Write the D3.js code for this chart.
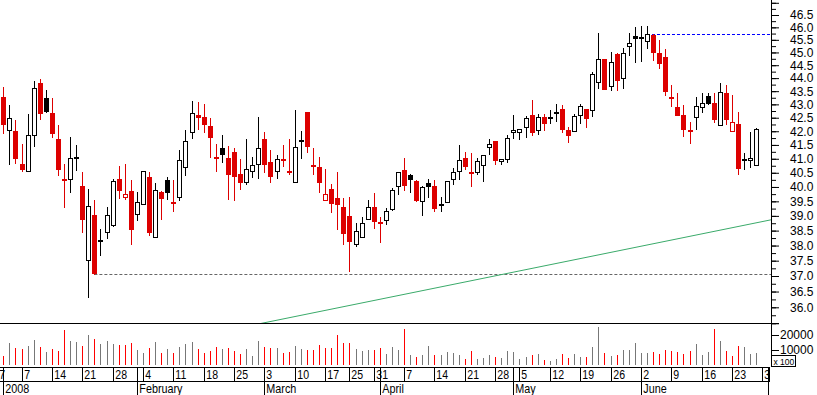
<!DOCTYPE html>
<html>
  <head>
    <meta charset="UTF-8" />
    <style>
      body {
        margin: 0;
        background-color: #ffffff;
      }
      svg {
        display: block;
        font-family: "Liberation Sans", Arial, sans-serif;
      }
    </style>
  </head>

  <body>
    <svg id="chart" width="817" height="395"></svg>

    <script src="https://d3js.org/d3.v7.min.js"></script>
    <script>
      // daily prices, 2 Jan 2008 .. 27 Jun 2008
      const openPrices = [
        43.26, 42.03, 42.0, 40.8, 40.58, 41.85, 43.8, 43.24, 42.67, 41.71,
        40.28, 40.27, 41.06, 40.03, 37.52, 39.02, 38.2, 38.47, 38.7, 40.28,
        39.64, 39.86, 39.05, 39.42, 40.35, 38.3, 39.82, 40.24, 39.49, 39.64,
        40.69, 41.96, 42.6, 42.52, 42.19, 41.05, 41.4, 41.01, 41.23, 40.47,
        40.18, 40.55, 40.83, 41.7, 40.88, 40.55, 40.98, 40.58, 40.16, 41.67,
        42.71, 40.79, 40.69, 39.53, 39.92, 39.6, 39.3, 38.99, 38.04, 38.27,
        38.9, 39.3, 38.8, 38.87, 39.22, 40.05, 40.59, 40.41, 40.21, 39.52,
        40.13, 40.03, 39.42, 39.46, 40.27, 40.55, 41.02, 40.52, 40.51, 40.76,
        41.44, 41.63, 40.91, 40.98, 41.98, 41.99, 42.15, 42.6, 42.03, 42.52,
        42.52, 42.72, 42.82, 42.06, 42.0, 42.62, 42.82, 42.78, 43.84, 44.73,
        43.69, 44.93, 43.99, 45.27, 45.64, 45.6, 45.45, 45.69, 44.97, 44.83,
        43.29, 42.89, 42.62, 42.05, 42.54, 42.91, 43.31, 43.04, 42.22, 43.42,
        42.02, 42.27, 40.99, 40.95, 40.76,
      ];
      const highPrices = [
        43.67, 42.98, 42.41, 41.53, 42.64, 43.89, 43.96, 43.54, 43.23, 42.23,
        40.81, 41.79, 41.49, 40.52, 39.92, 39.54, 38.55, 39.29, 40.28, 40.74,
        40.81, 40.24, 39.82, 40.56, 40.52, 40.13, 39.86, 40.35, 40.24, 41.31,
        42.04, 43.12, 43.08, 43.02, 42.48, 41.53, 41.86, 41.45, 41.38, 40.99,
        41.7, 41.06, 42.52, 41.97, 41.31, 41.12, 41.48, 41.7, 42.79, 42.0,
        42.71, 41.38, 41.06, 40.63, 40.1, 40.53, 39.62, 39.66, 38.77, 38.95,
        39.54, 39.8, 38.96, 39.26, 39.95, 40.51, 41.02, 40.44, 40.24, 40.03,
        40.28, 40.24, 39.65, 40.21, 40.66, 41.49, 41.24, 41.2, 41.01, 41.12,
        41.7, 41.64, 40.99, 41.85, 42.6, 42.1, 42.57, 43.16, 42.64, 42.64,
        42.79, 43.02, 42.98, 42.16, 42.64, 43.01, 42.84, 44.23, 45.78, 44.73,
        45.03, 44.97, 45.17, 45.76, 46.03, 46.06, 46.06, 45.72, 45.49, 45.12,
        43.72, 43.42, 42.98, 42.35, 43.26, 43.44, 43.44, 43.44, 43.8, 43.74,
        43.35, 42.71, 41.22, 41.97, 42.12,
      ];
      const lowPrices = [
        41.95, 40.82, 40.85, 40.57, 40.58, 41.46, 42.46, 42.71, 41.79, 40.43,
        39.31, 39.83, 40.59, 38.45, 36.33, 37.05, 37.69, 38.26, 38.67, 39.63,
        39.57, 38.06, 38.85, 39.42, 38.36, 38.3, 38.89, 39.57, 39.17, 39.54,
        40.42, 41.76, 42.08, 41.98, 41.07, 40.57, 40.89, 39.59, 39.55, 39.93,
        40.12, 40.34, 40.32, 40.53, 40.18, 40.32, 40.74, 40.46, 40.16, 41.03,
        41.24, 40.47, 39.83, 39.53, 39.13, 38.55, 38.06, 37.17, 37.99, 38.27,
        38.9, 38.6, 38.12, 38.74, 39.2, 39.77, 39.91, 39.83, 39.52, 39.02,
        39.66, 39.17, 39.17, 39.46, 40.11, 40.29, 40.65, 40.04, 40.47, 40.21,
        41.16, 40.83, 40.83, 40.89, 41.77, 41.7, 41.8, 41.85, 41.91, 42.05,
        42.31, 42.38, 41.98, 41.6, 42.0, 42.31, 42.16, 42.58, 43.61, 43.59,
        43.54, 43.54, 43.63, 44.91, 44.63, 44.67, 45.16, 44.7, 44.39, 43.35,
        42.94, 42.61, 41.83, 41.57, 42.1, 42.73, 43.02, 42.33, 42.22, 42.26,
        42.02, 40.44, 40.62, 40.69, 40.76,
      ];
      const closePrices = [
        42.26, 42.48, 41.03, 40.65, 41.86, 43.61, 42.69, 42.75, 41.95, 40.62,
        40.27, 41.04, 41.04, 38.89, 39.33, 37.1, 38.19, 39.04, 40.21, 39.9,
        39.77, 38.55, 39.46, 40.56, 38.46, 39.91, 39.62, 39.84, 39.48, 40.94,
        41.66, 42.69, 42.52, 42.28, 41.79, 41.04, 41.17, 40.44, 40.39, 40.18,
        40.62, 40.76, 41.4, 40.8, 40.39, 40.98, 40.97, 40.57, 41.42, 41.66,
        41.46, 40.78, 40.16, 39.74, 39.45, 39.4, 38.43, 38.16, 38.5, 38.77,
        39.31, 38.84, 38.79, 39.18, 39.88, 40.51, 40.07, 40.29, 39.54, 40.0,
        40.04, 39.28, 39.4, 40.2, 40.51, 40.94, 40.74, 40.51, 40.92, 41.12,
        41.52, 40.94, 40.98, 41.74, 42.06, 42.08, 42.48, 41.96, 42.52, 42.31,
        42.5, 42.7, 42.09, 41.88, 42.57, 42.95, 42.5, 44.15, 44.73, 43.59,
        44.62, 43.94, 44.97, 45.39, 45.58, 45.58, 45.72, 45.02, 44.58, 43.51,
        43.28, 42.61, 42.07, 42.04, 42.94, 43.04, 43.05, 42.45, 43.47, 42.44,
        42.33, 40.68, 40.97, 41.02, 42.1,
      ];
      // volume, in hundreds
      const volumes = [
        6000, 14900, 11500, 10700, 12900, 16700, 12200, 8700, 10700, 9300,
        23300, 16000, 15300, 12700, 20000, 17300, 14000, 16000, 14000, 13300,
        13300, 14700, 10000, 8000, 11300, 15300, 8000, 10700, 8000, 12000,
        14000, 15300, 10700, 8000, 9300, 12000, 10700, 11300, 9300, 7300,
        10700, 6000, 16000, 12000, 11300, 11300, 8000, 8700, 12700, 10700,
        10000, 10000, 13300, 11300, 11300, 20000, 14700, 14700, 10700, 9300,
        10000, 10000, 11300, 7300, 12000, 10000, 24000, 6700, 5300, 6700,
        12700, 6700, 6700, 8700, 8000, 6700, 4000, 9300, 4000, 4700,
        6700, 5300, 4700, 9300, 8700, 4000, 5300, 6700, 7300, 3300,
        2700, 4000, 7300, 4700, 7300, 5300, 5300, 12000, 25300, 8000,
        6000, 6700, 10000, 10000, 14700, 8000, 8000, 8700, 7300, 10000,
        9300, 8700, 7300, 9300, 14000, 6700, 8700, 24000, 16000, 9300,
        6000, 12700, 12000, 7300, 8000,
      ];
      const priorClose = 43.1;

      const holidays = ["2007-12-31", "2008-01-01", "2008-03-21", "2008-03-24", "2008-05-01"];
      const firstCandleDay = "2008-01-02";
      const weekTicks = [
        "2007-12-27", "2008-01-07", "2008-01-14", "2008-01-21", "2008-01-28",
        "2008-02-04", "2008-02-11", "2008-02-18", "2008-02-25", "2008-03-03",
        "2008-03-10", "2008-03-17", "2008-03-25", "2008-03-31", "2008-04-07",
        "2008-04-14", "2008-04-21", "2008-04-28", "2008-05-05", "2008-05-12",
        "2008-05-19", "2008-05-26", "2008-06-02", "2008-06-09", "2008-06-16",
        "2008-06-23", "2008-06-30",
      ];
      const monthTicks = ["2008-01-02", "2008-02-01", "2008-03-03", "2008-04-01", "2008-05-02", "2008-06-02", "2008-07-01"];
      const monthLabels = ["2008", "February", "March", "April", "May", "June", "July"];

      const priceLabels = d3.range(36, 46.51, 0.5);
      const priceMinor = d3.range(35.5, 47.01, 0.25);
      const volumeLabels = [10000, 20000];

      const supportLevel = 37.08, supportFrom = 15;
      const resistanceLevel = 45.72, resistanceFrom = 106;
      const trendIdx = [41, 127], trendPrice = [35.44, 38.89];

      // trading calendar
      const parse = d3.utcParse("%Y-%m-%d");
      const fmt = d3.utcFormat("%Y-%m-%d");
      const days = d3.utcDay
        .range(parse("2007-12-27"), parse("2008-07-02"))
        .filter((d) => d.getUTCDay() % 6 !== 0 && !holidays.includes(fmt(d)));
      const base = days.findIndex((d) => fmt(d) === firstCandleDay);
      const dayIndex = (s) => days.findIndex((d) => fmt(d) === s) - base;

      const axisX = 771;
      const priceBottom = 323;
      const volBottom = 367;
      const dayRowBottom = 381;
      const red = "#dd0000";

      const svg = d3.select("#chart");

      const x = d3.scaleLinear().domain([0, 124]).range([3.3, 756.3]);
      const y = d3.scaleLog().domain([36, 46.5]).range([307.3, 15]);
      const yv = d3.scaleLinear().domain([0, 20000]).range([365, 335]);
      const col = (i) => Math.round(x(i));

      const candles = closePrices.map((c, i) => ({
        i: i,
        o: openPrices[i],
        h: highPrices[i],
        l: lowPrices[i],
        c: c,
        down: c < (i ? closePrices[i - 1] : priorClose),
        filled: c < openPrices[i],
      }));

      svg.append("clipPath").attr("id", "priceClip")
        .append("rect").attr("x", 0).attr("y", 0).attr("width", axisX).attr("height", priceBottom);
      svg.append("clipPath").attr("id", "dateClip")
        .append("rect").attr("x", 0).attr("y", volBottom).attr("width", 770).attr("height", 30);

      const pricePane = svg.append("g").attr("clip-path", "url(#priceClip)");

      // support / resistance / trend
      pricePane.append("line")
        .attr("x1", x(supportFrom)).attr("x2", axisX)
        .attr("y1", Math.round(y(supportLevel)) + 0.5).attr("y2", Math.round(y(supportLevel)) + 0.5)
        .attr("stroke", "#666").attr("stroke-dasharray", "3,2");
      pricePane.append("line")
        .attr("x1", x(resistanceFrom)).attr("x2", axisX)
        .attr("y1", Math.round(y(resistanceLevel)) + 0.5).attr("y2", Math.round(y(resistanceLevel)) + 0.5)
        .attr("stroke", "#0000ff").attr("stroke-dasharray", "3,2");
      pricePane.append("line")
        .attr("x1", x(trendIdx[0])).attr("y1", y(trendPrice[0]))
        .attr("x2", x(trendIdx[1])).attr("y2", y(trendPrice[1]))
        .attr("stroke", "#3aaa6a").attr("stroke-width", 1);

      const cg = pricePane.selectAll(".candle").data(candles).enter().append("g").attr("class", "candle");

      cg.append("line")
        .attr("x1", (d) => col(d.i) + 0.5).attr("x2", (d) => col(d.i) + 0.5)
        .attr("y1", (d) => Math.round(y(d.h))).attr("y2", (d) => Math.round(y(d.l)) + 1)
        .attr("stroke", (d) => (d.down ? red : "#000"))
        .attr("shape-rendering", "crispEdges");

      cg.append("rect")
        .attr("x", (d) => col(d.i) - 1.5)
        .attr("y", (d) => Math.round(y(Math.max(d.o, d.c))) + 0.5)
        .attr("width", 4)
        .attr("height", (d) => Math.max(1, Math.round(y(Math.min(d.o, d.c))) - Math.round(y(Math.max(d.o, d.c)))))
        .attr("fill", (d) => (d.filled ? (d.down ? red : "#000") : "#fff"))
        .attr("stroke", (d) => (d.down ? red : "#000"))
        .attr("shape-rendering", "crispEdges");

      // volume
      svg.append("g").selectAll("line").data(candles).enter().append("line")
        .attr("x1", (d) => col(d.i) + 0.5).attr("x2", (d) => col(d.i) + 0.5)
        .attr("y1", yv(0)).attr("y2", (d) => yv(volumes[d.i]))
        .attr("stroke", (d) => (d.down ? "#ff0000" : "#777"))
        .attr("shape-rendering", "crispEdges");

      // frame lines
      const frame = svg.append("g").attr("stroke", "#000").attr("shape-rendering", "crispEdges");
      frame.append("line").attr("x1", 0).attr("x2", axisX + 8).attr("y1", priceBottom + 0.5).attr("y2", priceBottom + 0.5);
      frame.append("line").attr("x1", axisX + 0.5).attr("x2", axisX + 0.5).attr("y1", 0).attr("y2", volBottom);
      frame.append("line").attr("x1", 0).attr("x2", 770).attr("y1", volBottom + 0.5).attr("y2", volBottom + 0.5);
      frame.append("line").attr("x1", 0).attr("x2", 770).attr("y1", dayRowBottom + 0.5).attr("y2", dayRowBottom + 0.5);
      frame.append("line").attr("x1", 769.5).attr("x2", 769.5).attr("y1", volBottom).attr("y2", dayRowBottom);

      // price axis
      svg.append("g")
        .attr("transform", `translate(${axisX},0)`)
        .call(d3.axisRight(y).tickValues(priceMinor).tickSize(5).tickFormat(""))
        .call((g) => g.select(".domain").remove());
      svg.append("g")
        .attr("transform", `translate(${axisX},0)`)
        .call(d3.axisRight(y).tickValues(priceLabels.concat([35.5, 47])).tickSize(8).tickPadding(11)
          .tickFormat((d) => (d < 36 || d > 46.5 ? "" : d3.format(".1f")(d))))
        .call((g) => g.select(".domain").remove())
        .attr("font-family", null).attr("font-size", 12);

      // volume axis
      svg.append("g")
        .attr("transform", `translate(${axisX},0)`)
        .call(d3.axisRight(yv).tickValues(volumeLabels).tickSize(8).tickPadding(1).tickFormat(d3.format("d")))
        .call((g) => g.select(".domain").remove())
        .attr("font-family", null).attr("font-size", 12);

      svg.append("rect").attr("x", 771.5).attr("y", 355.5).attr("width", 24).attr("height", 11)
        .attr("fill", "#fff").attr("stroke", "#000").attr("shape-rendering", "crispEdges");
      svg.append("text").attr("x", 773.5).attr("y", 364.5).attr("font-size", 8.5).text("x 100");

      // date axis (narrow lettering, as in the original)
      const dateAxis = svg.append("g").attr("clip-path", "url(#dateClip)");
      const wk = dateAxis.selectAll(".wk").data(weekTicks).enter().append("g").attr("class", "wk");
      wk.append("line")
        .attr("x1", (d) => col(dayIndex(d)) + 0.5).attr("x2", (d) => col(dayIndex(d)) + 0.5)
        .attr("y1", volBottom).attr("y2", dayRowBottom)
        .attr("stroke", "#000").attr("shape-rendering", "crispEdges");
      wk.append("text")
        .attr("transform", (d) => `translate(${col(dayIndex(d)) + 2.3},379.3) scale(0.88,1)`)
        .attr("font-size", 12)
        .text((d) => +d.slice(8));

      const mo = dateAxis.selectAll(".mo").data(monthTicks).enter().append("g").attr("class", "mo");
      mo.append("line")
        .attr("x1", (d) => col(dayIndex(d)) + 0.5).attr("x2", (d) => col(dayIndex(d)) + 0.5)
        .attr("y1", volBottom).attr("y2", 395)
        .attr("stroke", "#000").attr("shape-rendering", "crispEdges");
      mo.append("text")
        .attr("transform", (d) => `translate(${col(dayIndex(d)) + 2.3},392.8) scale(0.9,1)`)
        .attr("font-size", 12)
        .text((d, i) => monthLabels[i]);
    </script>
  </body>
</html>
